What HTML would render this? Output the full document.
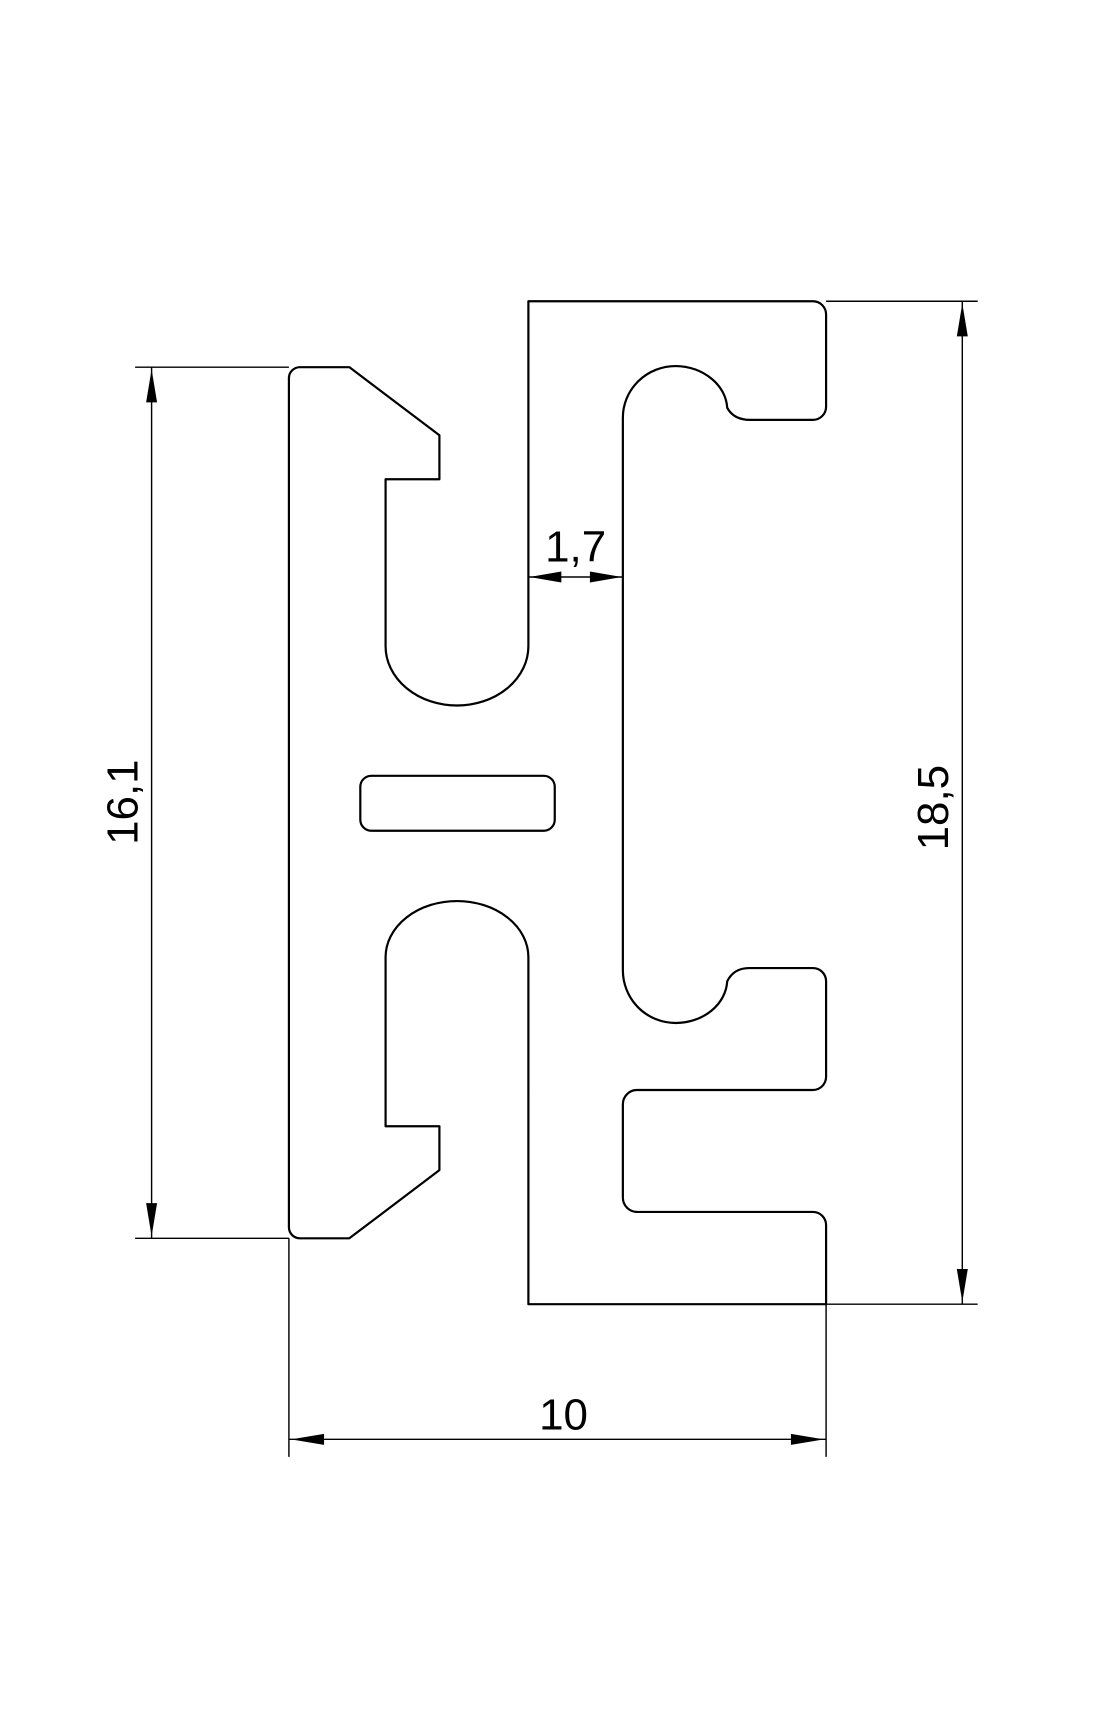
<!DOCTYPE html>
<html><head><meta charset="utf-8"><style>
html,body{margin:0;padding:0;background:#fff;}
svg{display:block;}
text{font-family:"Liberation Sans",sans-serif;fill:#000;}
</style></head><body>
<svg width="1115" height="1723" viewBox="0 0 1015 1568" xmlns="http://www.w3.org/2000/svg">
<path fill="none" stroke="#000" stroke-width="2" stroke-linejoin="round" d="
M273,334 L318,334 L400,396 L400,436 L351,436 L351,588
A65,54 0 0 0 481,588 L481,274 L740,274 A12,12 0 0 1 752,286 L752,370 A12,12 0 0 1 740,382 L683,382
Q668,382 662,371 A48,40 0 0 0 615,333 A48,47 0 0 0 567,380 L567,883 A48,48 0 0 0 615,931 A47,40 0 0 0 662,893 Q668,881 682,881 L740,881
A12,12 0 0 1 752,893 L752,980 A12,12 0 0 1 740,992 L580,992 A13,13 0 0 0 567,1005 L567,1090
A13,13 0 0 0 580,1103 L740,1103 A12,12 0 0 1 752,1115 L752,1187 L481,1187 L481,871
A65,51 0 0 0 351,871 L351,1025 L400,1025 L400,1065 L318,1127 L273,1127 A10,10 0 0 1 263,1117
L263,344 A10,10 0 0 1 273,334 Z"/>
<rect x="328" y="706" width="177" height="50" rx="10" fill="none" stroke="#000" stroke-width="2"/>
<g stroke="#000" stroke-width="1.3" fill="none">
<line x1="123" y1="334" x2="263" y2="334"/>
<line x1="123" y1="1127" x2="263" y2="1127"/>
<line x1="138" y1="334" x2="138" y2="1127"/>
<line x1="752" y1="274" x2="890" y2="274"/>
<line x1="752" y1="1187" x2="890" y2="1187"/>
<line x1="876" y1="274" x2="876" y2="1187"/>
<line x1="263" y1="1127" x2="263" y2="1326"/>
<line x1="752" y1="1187" x2="752" y2="1326"/>
<line x1="263" y1="1310" x2="752" y2="1310"/>
<line x1="481" y1="525" x2="567" y2="525"/>
</g>
<g fill="#000">
<polygon points="138,336 133,366 143,366"/>
<polygon points="138,1125 133,1095 143,1095"/>
<polygon points="876,276 871,306 881,306"/>
<polygon points="876,1185 871,1155 881,1155"/>
<polygon points="265,1310 295,1305 295,1315"/>
<polygon points="750,1310 720,1305 720,1315"/>
<polygon points="482,525 511,520 511,530"/>
<polygon points="566,525 537,520 537,530"/>
</g>
<text x="524" y="511" font-size="40" text-anchor="middle">1,7</text>
<text x="513" y="1301" font-size="40" text-anchor="middle">10</text>
<text transform="translate(125,730) rotate(-90)" font-size="40" text-anchor="middle">16,1</text>
<text transform="translate(863,735) rotate(-90)" font-size="40" text-anchor="middle">18,5</text>
</svg>
</body></html>
